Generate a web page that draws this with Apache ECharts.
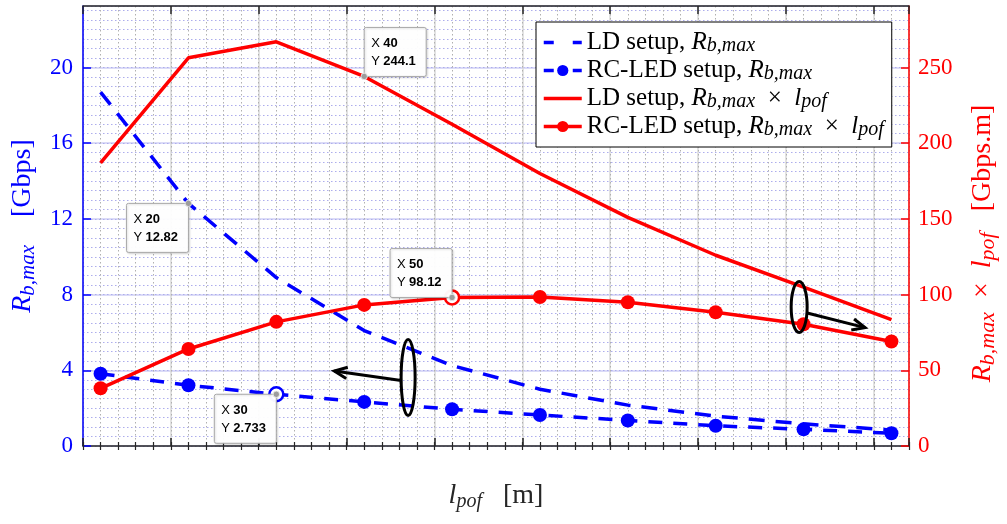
<!DOCTYPE html>
<html>
<head>
<meta charset="utf-8">
<script src="https://cdn.jsdelivr.net/npm/echarts@6/dist/echarts.min.js"></script>
<style>html,body{margin:0;padding:0;background:#fff}#c{width:1007px;height:524px}</style>
</head>
<body>
<div id="c"></div>
<script>
// ---- data ----
const lengths = [10, 20, 30, 40, 50, 60, 70, 80, 90, 100];
const ldRate = [18.7, 12.82, 8.9, 6.10, 4.25, 3.0, 2.16, 1.58, 1.17, 0.84];
const rcledRate = [3.82, 3.21, 2.733, 2.33, 1.94, 1.64, 1.35, 1.07, 0.88, 0.67];
const ldProduct = [187, 256.4, 267, 244.1, 212.5, 180, 151, 126, 105, 83.5];
const rcledProduct = [38.1, 64.1, 82, 93.2, 98.12, 98.4, 94.9, 88.3, 80.4, 69];
const xTickLabels = [10, 20, 30, 40, 50, 60, 70, 80, 90, 100];
const seriesNames = ['LD setup, Rb,max', 'RC-LED setup, Rb,max', 'LD setup, Rb,max x lpof', 'RC-LED setup, Rb,max x lpof'];
const legendTexts = {
  'LD setup, Rb,max': '{t|LD setup, }{i|R}{s|b,max}',
  'RC-LED setup, Rb,max': '{t|RC-LED setup, }{i|R}{s|b,max}',
  'LD setup, Rb,max x lpof': '{t|LD setup, }{i|R}{s|b,max}{t|  ×  }{i|l}{s|pof}',
  'RC-LED setup, Rb,max x lpof': '{t|RC-LED setup, }{i|R}{s|b,max}{t|  ×  }{i|l}{s|pof}'
};
// datatips: series index, point index
const tips = [
  {s: 0, i: 1, dx: -1, dy: 1},
  {s: 2, i: 3, dx: 1, dy: -1},
  {s: 1, i: 2, dx: -1, dy: 1},
  {s: 3, i: 4, dx: -1, dy: -1}
];
// annotation ellipses/arrows in data coordinates
const annotations = [
  {s: 0, cx: 45, cy: 3.62, tipX: 36.6, tipY: 3.96, rx: 7, ry: 38, side: -1},
  {s: 2, cx: 89.5, cy: 91.8, tipX: 97.0, tipY: 78.2, rx: 8, ry: 25.5, side: 1}
];

const LEFT_MAX = 23.25;
const RIGHT_MAX = LEFT_MAX * 12.5;
const SERIF = 'Liberation Serif';
const BLUE = '#0000ff', RED = '#ff0000', DARK = '#262626';

function richSet(main, sub, color, lh) {
  return {
    t: {fontFamily: SERIF, fontSize: main, color: color, lineHeight: lh || main + 4},
    i: {fontFamily: SERIF, fontStyle: 'italic', fontSize: main, color: color, lineHeight: lh || main + 4},
    s: {fontFamily: SERIF, fontStyle: 'italic', fontSize: sub, color: color, lineHeight: sub + 1, verticalAlign: 'bottom'}
  };
}

const chart = echarts.init(document.getElementById('c'), null, {renderer: 'canvas'});

const pts = arr => lengths.map((x, i) => [x, arr[i]]);
function openAt(arr, idx, color) {
  return lengths.map((x, i) => i === idx
    ? {value: [x, arr[i]], itemStyle: {color: '#fff', borderColor: color, borderWidth: 2.5}}
    : [x, arr[i]]);
}

const option = {
  animation: false,
  backgroundColor: '#fff',
  grid: {left: 83, right: 94, top: 6, bottom: 78},
  legend: {
    orient: 'vertical', left: 536, top: 22,
    itemWidth: 38, itemHeight: 14, itemGap: 2,
    padding: [8, 8, 7, 6],
    backgroundColor: '#fff', borderColor: '#000', borderWidth: 1,
    selectedMode: false, z: 10,
    data: [
      {name: seriesNames[0], itemStyle: {opacity: 0}, lineStyle: {color: BLUE, width: 3.5, type: [10, 19]}},
      {name: seriesNames[1], itemStyle: {color: BLUE}, lineStyle: {color: BLUE, width: 3.5, type: [10, 19]}},
      {name: seriesNames[2], itemStyle: {opacity: 0}, lineStyle: {color: RED, width: 3.5, type: 'solid'}},
      {name: seriesNames[3], itemStyle: {color: RED}, lineStyle: {color: RED, width: 3.5, type: 'solid'}}
    ],
    formatter: n => legendTexts[n],
    textStyle: {fontFamily: SERIF, fontSize: 25, color: '#000', rich: richSet(25, 20, '#000', 27)}
  },
  xAxis: [
    {
      type: 'value', position: 'bottom', min: 8, max: 102, interval: 10,
      axisLine: {show: true, onZero: false, lineStyle: {color: DARK, width: 1.5}},
      axisTick: {show: true, inside: true, length: 8, lineStyle: {color: DARK, width: 1.5}},
      axisLabel: {formatter: v => (xTickLabels.indexOf(v) >= 0 ? String(v) : ''), fontFamily: SERIF, fontSize: 23, color: DARK, margin: 11},
      splitLine: {show: true, lineStyle: {color: '#d9d9d9', width: 1.5}},
      name: '{i|l}{s|pof}{t|   [m]}', nameLocation: 'middle', nameGap: 34,
      nameTextStyle: {rich: richSet(28, 20, DARK)}
    },
    {
      type: 'value', position: 'bottom', min: 8, max: 102, interval: 2,
      axisLine: {show: false}, axisLabel: {show: false},
      axisTick: {show: true, inside: true, length: 4, lineStyle: {color: DARK, width: 1.2}},
      splitLine: {show: true, lineStyle: {color: '#b0b0b0', width: 1, type: [1.5, 2.5]}}
    },
    {
      type: 'value', position: 'top', min: 8, max: 102, interval: 10,
      axisLine: {show: true, onZero: false, lineStyle: {color: DARK, width: 1.5}},
      axisTick: {show: true, inside: true, length: 8, lineStyle: {color: DARK, width: 1.5}},
      axisLabel: {show: false}, splitLine: {show: false}
    },
    {
      type: 'value', position: 'top', min: 8, max: 102, interval: 2,
      axisLine: {show: false}, axisLabel: {show: false},
      axisTick: {show: true, inside: true, length: 4, lineStyle: {color: DARK, width: 1.2}},
      splitLine: {show: false}
    }
  ],
  yAxis: [
    {
      type: 'value', position: 'left', min: 0, max: LEFT_MAX, interval: 4,
      axisLine: {show: true, onZero: false, lineStyle: {color: BLUE, width: 1.5}},
      axisTick: {show: true, inside: true, length: 8, lineStyle: {color: BLUE, width: 1.5}},
      axisLabel: {showMaxLabel: false, fontFamily: SERIF, fontSize: 23, color: BLUE, margin: 10},
      splitLine: {show: true, lineStyle: {color: '#cfcff5', width: 1.5}},
      name: '{i|R}{s|b,max}{t|    [Gbps]}', nameLocation: 'middle', nameRotate: 90, nameGap: 44,
      nameTextStyle: {rich: richSet(28, 21, BLUE)}
    },
    {
      type: 'value', position: 'right', min: 0, max: RIGHT_MAX, interval: 50,
      axisLine: {show: true, onZero: false, lineStyle: {color: RED, width: 1.5}},
      axisTick: {show: true, inside: true, length: 8, lineStyle: {color: RED, width: 1.5}},
      axisLabel: {showMaxLabel: false, fontFamily: SERIF, fontSize: 23, color: RED, margin: 9},
      splitLine: {show: false},
      name: '{i|R}{s|b,max}{t|  ×  }{i|l}{s|pof}{t|   [Gbps.m]}{t|     }', nameLocation: 'middle', nameRotate: 90, nameGap: 58,
      nameTextStyle: {rich: richSet(28, 22, RED)}
    },
    {
      type: 'value', position: 'left', min: 0, max: LEFT_MAX, interval: 0.5,
      axisLine: {show: false}, axisTick: {show: false}, axisLabel: {show: false},
      splitLine: {show: true, lineStyle: {color: '#adadec', width: 1, type: [1.5, 2.5]}}
    }
  ],
  series: [
    {
      name: seriesNames[0], type: 'line', xAxisIndex: 0, yAxisIndex: 0,
      data: pts(ldRate), symbol: 'none',
      lineStyle: {color: BLUE, width: 3.5, type: [16, 11]}, itemStyle: {color: BLUE},
      emphasis: {disabled: true}, z: 3
    },
    {
      name: seriesNames[1], type: 'line', xAxisIndex: 0, yAxisIndex: 0,
      data: openAt(rcledRate, 2, BLUE), symbol: 'circle', symbolSize: 14, showSymbol: true,
      lineStyle: {color: BLUE, width: 3.5, type: [14, 11]}, itemStyle: {color: BLUE},
      emphasis: {disabled: true}, z: 3
    },
    {
      name: seriesNames[2], type: 'line', xAxisIndex: 0, yAxisIndex: 1,
      data: pts(ldProduct), symbol: 'none',
      lineStyle: {color: RED, width: 3.5}, itemStyle: {color: RED},
      emphasis: {disabled: true}, z: 4
    },
    {
      name: seriesNames[3], type: 'line', xAxisIndex: 0, yAxisIndex: 1,
      data: openAt(rcledProduct, 4, RED), symbol: 'circle', symbolSize: 14, showSymbol: true,
      lineStyle: {color: RED, width: 3.5}, itemStyle: {color: RED},
      emphasis: {disabled: true}, z: 4
    }
  ]
};
chart.setOption(option);

// ---- datatips and annotations, placed through the chart's own scales ----
const seriesArrays = [ldRate, rcledRate, ldProduct, rcledProduct];
const BW = 62, BH = 49;
const graphics = [];
tips.forEach(t => {
  const x = lengths[t.i], y = seriesArrays[t.s][t.i];
  const p = chart.convertToPixel({seriesIndex: t.s}, [x, y]);
  const bx = t.dx < 0 ? p[0] - BW : p[0];
  const by = t.dy < 0 ? p[1] - BH : p[1];
  graphics.push({type: 'rect', z: 50, shape: {x: bx, y: by, width: BW, height: BH, r: 2},
    style: {fill: 'rgba(255,255,255,0.96)', stroke: '#a8a8a8', lineWidth: 1,
      shadowBlur: 2, shadowColor: 'rgba(0,0,0,0.15)', shadowOffsetX: 1, shadowOffsetY: 1}});
  graphics.push({type: 'text', z: 51, x: bx + 7, y: by + 7,
    style: {text: '{k|X} {v|' + x + '}\n{k|Y} {v|' + Number(y.toPrecision(4)) + '}',
      verticalAlign: 'top', align: 'left',
      rich: {
        k: {fontFamily: 'Liberation Sans', fontSize: 13, color: DARK, lineHeight: 18},
        v: {fontFamily: 'Liberation Sans', fontSize: 13, fontWeight: 'bold', color: '#1a84f0', lineHeight: 18}
      }}});
  graphics.push({type: 'circle', z: 52, shape: {cx: p[0], cy: p[1], r: 3.2},
    style: {fill: '#9c9c9c', stroke: '#f0f0f0', lineWidth: 0.8}});
});
annotations.forEach(a => {
  const c = chart.convertToPixel({seriesIndex: a.s}, [a.cx, a.cy]);
  const tip = chart.convertToPixel({seriesIndex: a.s}, [a.tipX, a.tipY]);
  graphics.push({type: 'ellipse', z: 45, shape: {cx: c[0], cy: c[1], rx: a.rx, ry: a.ry},
    style: {fill: 'none', stroke: '#000', lineWidth: 3}});
  const sx = c[0] + a.side * a.rx, sy = c[1] + (a.side < 0 ? 3 : 6);
  graphics.push({type: 'line', z: 45, shape: {x1: sx, y1: sy, x2: tip[0], y2: tip[1]},
    style: {stroke: '#000', lineWidth: 3}});
  const ang = Math.atan2(tip[1] - sy, tip[0] - sx);
  const L = 14, w = 0.42;
  graphics.push({type: 'polyline', z: 45, shape: {points: [
      [tip[0] - L * Math.cos(ang - w), tip[1] - L * Math.sin(ang - w)],
      [tip[0], tip[1]],
      [tip[0] - L * Math.cos(ang + w), tip[1] - L * Math.sin(ang + w)]]},
    style: {stroke: '#000', lineWidth: 3, fill: 'none'}});
});
chart.setOption({graphic: graphics});
</script>
</body>
</html>
